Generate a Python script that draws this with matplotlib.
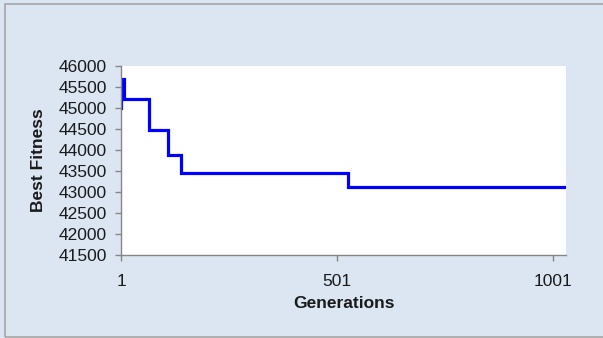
import matplotlib
matplotlib.use("Agg")
import matplotlib.pyplot as plt
from matplotlib.patches import Rectangle

# Data: generation at which the best fitness changes, and the value from there on
generations = [1, 2, 8, 66, 109, 139, 526, 1031]
best_fitness = [45000, 45690, 45220, 44480, 43870, 43460, 43130, 43130]
x_ticks = [1, 501, 1001]
y_ticks = [41500, 42000, 42500, 43000, 43500, 44000, 44500, 45000, 45500, 46000]

plt.rcParams['font.family'] = ['Liberation Sans', 'DejaVu Sans']

W, H = 603, 338
fig = plt.figure(figsize=(W / 100, H / 100), dpi=100)
bg = '#DCE6F2'
fig.patch.set_facecolor(bg)

# outer border
fig.patches.append(Rectangle((5 / W, 1 - 337 / H), 1.2, (337 - 4) / H,
                             transform=fig.transFigure, facecolor='none',
                             edgecolor='#A6A6A6', linewidth=1.2))

ax = fig.add_axes([121 / W, 1 - 255 / H, (566 - 121) / W, (255 - 66) / H])
ax.set_facecolor('white')
ax.plot(generations, best_fitness, drawstyle='steps-post', color='#0000FF',
        linewidth=2.3, solid_joinstyle='miter')

ax.set_xlim(1, 1031)
ax.set_ylim(41500, 46000)
ax.set_xticks(x_ticks)
ax.set_yticks(y_ticks)
ax.set_xticklabels([str(v) for v in x_ticks])
ax.set_yticklabels([str(v) for v in y_ticks])

for s in ['top', 'right']:
    ax.spines[s].set_visible(False)
for s in ['left', 'bottom']:
    ax.spines[s].set_color('#868686')
    ax.spines[s].set_linewidth(1.0)

ax.tick_params(axis='both', direction='out', length=4, width=1.0,
               color='#868686', labelsize=12.5, labelcolor='#1a1a1a')
ax.tick_params(axis='y', pad=6)
ax.tick_params(axis='x', pad=9.5)

ax.set_xlabel('Generations', fontsize=12.5, fontweight='bold', color='#1a1a1a', labelpad=5)
ax.set_ylabel('Best Fitness', fontsize=12.5, fontweight='bold', color='#1a1a1a', labelpad=9)

fig.savefig('out.png', dpi=100, facecolor=bg)
